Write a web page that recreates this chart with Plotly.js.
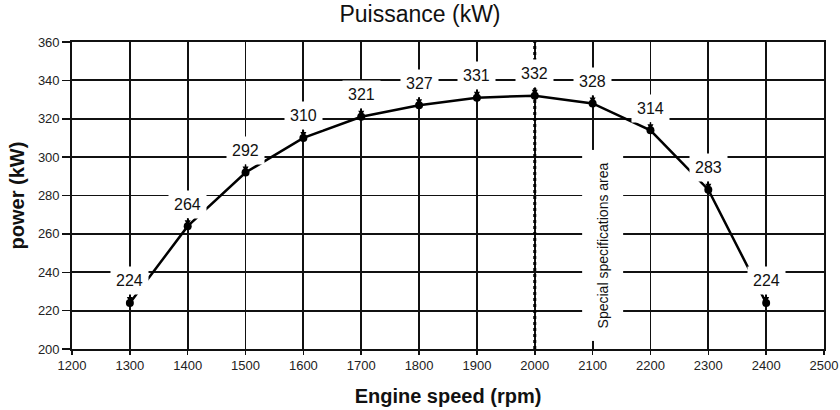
<!DOCTYPE html>
<html>
<head>
<meta charset="utf-8">
<script src="https://cdn.plot.ly/plotly-3.0.1.min.js"></script>
<style>html,body{margin:0;padding:0;background:#fff}#chart{width:840px;height:410px}</style>
</head>
<body>
<div id="chart"></div>
<script>
var speeds = [1300, 1400, 1500, 1600, 1700, 1800, 1900, 2000, 2100, 2200, 2300, 2400];
var power = [224, 264, 292, 310, 321, 327, 331, 332, 328, 314, 283, 224];
var xTicks = [1200, 1300, 1400, 1500, 1600, 1700, 1800, 1900, 2000, 2100, 2200, 2300, 2400, 2500];
var yTicks = [200, 220, 240, 260, 280, 300, 320, 340, 360];
var specLimit = 2000;
var specLabel = "Special specifications area";
var specLabelPos = {x: 2118, y: 254};

var FONT = "Liberation Sans, Arial, sans-serif";

var annotations = speeds.map(function (s, i) {
  return {
    x: s, y: power[i], xref: 'x', yref: 'y',
    text: String(power[i]),
    showarrow: true, arrowhead: 2, arrowsize: 0.8, arrowwidth: 1.5, arrowcolor: '#000',
    ax: 0, ay: -22,
    bgcolor: '#fff', borderpad: 5,
    font: {family: FONT, size: 16, color: '#111'}
  };
});
annotations.push({
  x: specLabelPos.x, y: specLabelPos.y, xref: 'x', yref: 'y',
  text: specLabel, showarrow: false, textangle: -90,
  bgcolor: '#fff', borderpad: 12,
  font: {family: FONT, size: 14, color: '#111'}
});

var trace = {
  x: speeds, y: power, type: 'scatter', mode: 'lines+markers',
  line: {color: '#000', width: 2.5},
  marker: {color: '#000', size: 8},
  hoverinfo: 'none'
};

var layout = {
  width: 840, height: 410,
  margin: {l: 72, r: 16, t: 42, b: 61},
  paper_bgcolor: '#fff', plot_bgcolor: '#fff',
  showlegend: false,
  title: {text: 'Puissance (kW)', x: 0.5, xanchor: 'center', yref: 'container', y: 0.985, yanchor: 'top',
          font: {family: FONT, size: 23, color: '#111'}},
  xaxis: {
    range: [1200, 2500], tickvals: xTicks, ticktext: xTicks.map(String),
    showgrid: true, gridcolor: '#111', gridwidth: 1.8,
    showline: true, linecolor: '#111', linewidth: 1.8, mirror: true,
    ticks: 'outside', ticklen: 4, tickcolor: '#111', tickwidth: 1.5,
    zeroline: false,
    tickfont: {family: FONT, size: 13, color: '#222'},
    title: {text: 'Engine speed (rpm)', standoff: 16, font: {family: FONT, size: 20, color: '#111', weight: 'bold'}}
  },
  yaxis: {
    range: [200, 360], tickvals: yTicks, ticktext: yTicks.map(String),
    showgrid: true, gridcolor: '#111', gridwidth: 1.8,
    showline: true, linecolor: '#111', linewidth: 1.8, mirror: true,
    ticks: 'outside', ticklen: 8, tickcolor: '#111', tickwidth: 1.5,
    zeroline: false,
    tickfont: {family: FONT, size: 13, color: '#222'},
    title: {text: 'power (kW)', standoff: 8, font: {family: FONT, size: 20, color: '#111', weight: 'bold'}}
  },
  shapes: [{
    type: 'line', xref: 'x', yref: 'paper', x0: specLimit, x1: specLimit, y0: 0, y1: 1,
    line: {color: '#000', width: 3, dash: 'dot'}
  }],
  annotations: annotations
};

Plotly.newPlot('chart', [trace], layout, {staticPlot: true, displayModeBar: false});
</script>
</body>
</html>
